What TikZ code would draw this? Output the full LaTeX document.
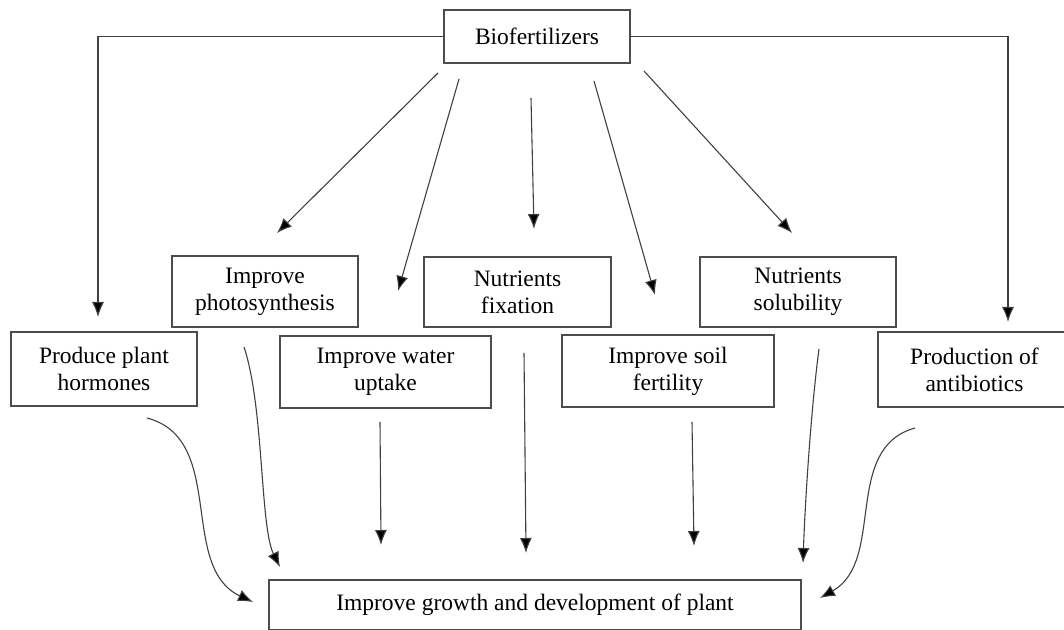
\documentclass[tikz,border=0pt]{standalone}
\usepackage{fontspec}
\setmainfont{Liberation Serif}
\usetikzlibrary{arrows.meta, positioning, calc}

\begin{document}
\begin{tikzpicture}[
    x=1pt, y=1pt,
    block/.style={rectangle, draw=black!70, line width=1.2pt, minimum height=72pt, inner sep=0pt, align=center, font=\fontsize{23.5}{27}\selectfont},
    line/.style={draw=black!75, line width=1.1pt, -{Latex[length=15pt, width=12pt, fill=black]}}
]
\useasboundingbox (0,0) rectangle (1064,629);

\node [block, minimum width=186pt, minimum height=53pt] (bio) at (537,592.5) {Biofertilizers};
\node [block, minimum width=186pt, minimum height=71pt] (photo) at (265,337.5) {Improve\\photosynthesis};
\node [block, minimum width=187pt, minimum height=70pt] (fix) at (517.5,337) {Nutrients\\fixation};
\node [block, minimum width=196pt, minimum height=70pt] (sol) at (798,337) {Nutrients\\solubility};
\node [block, minimum width=186pt, minimum height=74pt] (horm) at (104,260) {Produce plant\\hormones};
\node [block, minimum width=211pt] (water) at (385.5,257) {Improve water\\uptake};
\node [block, minimum width=212pt] (soil) at (668,258) {Improve soil\\fertility};
\node [block, minimum width=193pt, minimum height=75pt] (anti) at (974.5,259.5) {Production of\\antibiotics};
\node [block, minimum width=532pt, minimum height=50pt] (growth) at (535,24) {Improve growth and development of plant};

% free ends of the arrows
\coordinate (hormtip) at (98,312);
\coordinate (antitip) at (1008,307);
\coordinate (s1) at (438,556); \coordinate (t1) at (277,396);
\coordinate (s2) at (459,550); \coordinate (t2) at (398,338);
\coordinate (s3) at (531,531); \coordinate (t3) at (534,400);
\coordinate (s4) at (594,548); \coordinate (t4) at (655,334);
\coordinate (s5) at (644,558); \coordinate (t5) at (792,396);
\coordinate (u1) at (147,211); \coordinate (v1) at (253,27);
\coordinate (u2) at (244,282); \coordinate (v2) at (280,62);
\coordinate (u3) at (380,207); \coordinate (v3) at (381,84);
\coordinate (u4) at (524,276); \coordinate (v4) at (526,76);
\coordinate (u5) at (692,207); \coordinate (v5) at (694,83);
\coordinate (u6) at (819,280); \coordinate (v6) at (803,66);
\coordinate (u7) at (915,201); \coordinate (v7) at (820,31);

\path [line] (bio.west) -| (hormtip);
\path [line] (bio.east) -| (antitip);
\path [line] (s1) -- (t1);
\path [line] (s2) -- (t2);
\path [line] (s3) -- (t3);
\path [line] (s4) -- (t4);
\path [line] (s5) -- (t5);

\path [line] (u1) .. controls +(80,-21) and +(-75,35) .. (v1);
\path [line] (u2) .. controls +(20,-60) and +(-20,40) .. (v2);
\path [line] (u3) -- (v3);
\path [line] (u4) -- (v4);
\path [line] (u5) -- (v5);
\path [line] (u6) .. controls +(-8,-60) and +(2,60) .. (v6);
\path [line] (u7) .. controls +(-73,-20) and +(66,37) .. (v7);
\end{tikzpicture}
\end{document}
